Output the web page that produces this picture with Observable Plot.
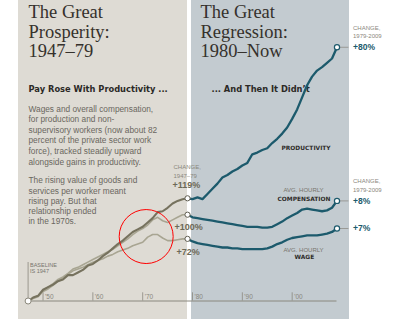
<!DOCTYPE html>
<html><head><meta charset="utf-8">
<script src="https://cdn.jsdelivr.net/npm/d3@7"></script>
<script src="https://cdn.jsdelivr.net/npm/@observablehq/plot@0.6"></script>
<style>
html,body{margin:0;padding:0;background:#fff;}
#chart svg{display:block;}
</style>
</head><body><div id="chart"></div>
<script>
// ---- data (percent change since 1947) ----
const yearsPre = d3.range(1947, 1980);
const yearsPost = d3.range(1979, 2010);
const productivityPre = [0,4,6,13,16,19,23,25,30,30,33,36,41,43,47,52,56,61,66,70,75,80,83,86,91,96,103,104,108,113,116,118,119];
const compensationPre = [0,3,6,12,16,20,25,28,32,37,39,42,45,48,51,54,57,60,64,68,72,77,81,84,88,94,97,93,91,94,97,100,100];
const wagePre = [0,3,5,11,14,18,23,27,31,35,37,39,42,45,47,49,52,54,57,59,61,64,66,68,74,77,77,73,70,70,71,72,72];
const productivityPost = [119,118,120,118,124,130,136,143,146,150,153,157,160,170,172,175,177,183,188,194,201,211,222,236,250,260,267,271,276,281,294];
const compensationPost = [100,97,96,95,94,93,92,91,90,89,88,87,86,86,86,85,85,86,89,92,96,99,102,106,107,106,105,104,105,108,116];
const wagePost = [72,69,67,66,65,64,63,62,62,61,61,60,60,60,60,60,61,63,66,68,71,73,74,75,76,76,76,77,78,80,84];
const tickYears = [1950, 1960, 1970, 1980, 1990, 2000];
const tickLabels = ["'50", "'60", "'70", "'80", "'90", "'00"];
const changePre = ["+119%", "+100%", "+72%"];
const changePost = ["+80%", "+8%", "+7%"];
const highlight = [{year: 1970.7, value: 74.7}];

// ---- layout ----
const W = 394, H = 321, mL = 27.6, mR = 57.5, mT = 41.6, mB = 20.5;
const X0 = 1947, X1 = 2009, Y0 = 0, Y1 = 300;
const kx = (W - mL - mR) / (X1 - X0), ky = (H - mT - mB) / (Y1 - Y0);
const px2x = p => X0 + (p - mL) / kx;
const py2y = p => Y0 + (H - mB - p) / ky;

const TEAL = "#1c5a6c", OLIVE = "#76725e", OLIVE_L = "#a8a592", GRAY = "#77746c";
const SANS = "Liberation Sans, Arial, sans-serif";
const HEAVY = "DejaVu Sans, sans-serif";
const SERIF = "Liberation Serif, serif";

const rows = (years, vals) => years.map((y, i) => ({year: y, value: vals[i]}));
const pre = {prod: rows(yearsPre, productivityPre), comp: rows(yearsPre, compensationPre), wage: rows(yearsPre, wagePre)};
const post = {prod: rows(yearsPost, productivityPost), comp: rows(yearsPost, compensationPost), wage: rows(yearsPost, wagePost)};
const endPre = [pre.prod.at(-1), pre.comp.at(-1), pre.wage.at(-1)];
const endPost = [post.prod.at(-1), post.comp.at(-1), post.wage.at(-1)];

const txt = (items, o) => Plot.text(items.map(d => ({x: px2x(d[0]), y: py2y(d[1]), t: d[2]})),
  Object.assign({x: "x", y: "y", text: "t", textAnchor: "start", fontFamily: SANS}, o));
const near = (d, label, dx, dy, o) => Plot.text([d], Object.assign({x: "year", y: "value", text: () => label, dx, dy, textAnchor: "start", fontFamily: SANS}, o));

const preOffsets = [[-15, -13], [-13, 12], [-11, 13]];
const preLabels = endPre.map((d, i) => near(d, changePre[i], preOffsets[i][0], preOffsets[i][1], {fontSize: 9, fontWeight: "bold", fill: "#6d6957"}));
const postLabels = endPost.map((d, i) => near(d, changePost[i], 16, 0, {fontSize: 8.5, fontWeight: "bold", fill: TEAL}));
const postHeads = [0, 1].flatMap(i => [
  near(endPost[i], "CHANGE,", 16, -19.5, {fontSize: 6, fill: "#8a877d"}),
  near(endPost[i], "1979-2009", 16, -11, {fontSize: 6, fill: "#8a877d"})
]);

const chart = Plot.plot({
  width: W, height: H,
  marginLeft: mL, marginRight: mR, marginTop: mT, marginBottom: mB,
  x: {domain: [X0, X1], axis: null},
  y: {domain: [Y0, Y1], axis: null},
  style: {background: "transparent", overflow: "visible"},
  marks: [
    // panels
    Plot.rect([{x1: px2x(18), x2: px2x(187), y1: py2y(319), y2: py2y(0)}], {x1: "x1", x2: "x2", y1: "y1", y2: "y2", fill: "#dedbd4"}),
    Plot.rect([{x1: px2x(191), x2: px2x(349), y1: py2y(319), y2: py2y(0)}], {x1: "x1", x2: "x2", y1: "y1", y2: "y2", fill: "#c3cbd0"}),
    // axis
    Plot.ruleY([0], {x1: X0, x2: X1, stroke: "#8a887e", strokeWidth: 1}),
    Plot.ruleX(tickYears, {y1: 0, y2: 9.5, stroke: "#8a887e", strokeWidth: 0.8}),
    Plot.text(tickYears, {x: d => d, y: 0, text: (d, i) => tickLabels[i], dx: 2, dy: -4.5, textAnchor: "start", fontSize: 6.5, fill: "#8a887e", fontFamily: SANS}),
    Plot.ruleX([X0], {y1: 0, y2: py2y(262), stroke: "#8a887e", strokeWidth: 0.8}),
    txt([[29.5, 264.5, "BASELINE"], [29.5, 271, "IS 1947"]], {fontSize: 5.5, fill: GRAY}),
    // titles
    txt([[28, 3.5, "The Great\nProsperity:\n1947\u201379"]], {fontFamily: SERIF, fontSize: 18.5, lineHeight: 1.06, lineAnchor: "top", fill: "#35312c"}),
    txt([[200, 3.5, "The Great\nRegression:\n1980\u2013Now"]], {fontFamily: SERIF, fontSize: 18.5, lineHeight: 1.06, lineAnchor: "top", fill: "#35312c"}),
    txt([[28, 89, "Pay Rose With Productivity ..."], [211, 89, "... And Then It Didn\u2019t"]], {fontFamily: HEAVY, fontWeight: "bold", fontSize: 8.3, fill: "#2b2926"}),
    txt([[28, 103.5, "Wages and overall compensation,\nfor production and non-\nsupervisory workers (now about 82\npercent of the private sector work\nforce), tracked steadily upward\nalongside gains in productivity."]],
      {fontSize: 8.3, lineHeight: 1.28, lineAnchor: "top", fill: "#6a6760"}),
    txt([[28, 175.5, "The rising value of goods and\nservices per worker meant\nrising pay. But that\nrelationship ended\nin the 1970s."]],
      {fontSize: 8.3, lineHeight: 1.24, lineAnchor: "top", fill: "#6a6760"}),
    // series labels
    txt([[281, 148, "PRODUCTIVITY"], [277, 199, "COMPENSATION"], [294, 257, "WAGE"]], {fontFamily: HEAVY, fontWeight: "bold", fontSize: 5.9, fill: "#2e2c29"}),
    txt([[283, 190, "AVG. HOURLY"], [283, 250, "AVG. HOURLY"]], {fontSize: 6, fill: GRAY}),
    txt([[173, 167, "CHANGE,"], [173, 175.5, "1947\u201379"]], {fontSize: 6, fill: "#8a877d"}),
    // leaders at right
    Plot.link(endPost, {x1: "year", y1: "value", x2: d => d.year + 2.3, y2: "value", stroke: "#8f8d86", strokeWidth: 0.8}),
    // lines pre
    Plot.line(pre.wage, {x: "year", y: "value", stroke: OLIVE_L, strokeWidth: 1.6}),
    Plot.line(pre.comp, {x: "year", y: "value", stroke: OLIVE_L, strokeWidth: 1.6}),
    Plot.line(pre.prod, {x: "year", y: "value", stroke: OLIVE, strokeWidth: 2.1}),
    // lines post
    Plot.line(post.wage, {x: "year", y: "value", stroke: TEAL, strokeWidth: 2.3}),
    Plot.line(post.comp, {x: "year", y: "value", stroke: TEAL, strokeWidth: 2.3}),
    Plot.line(post.prod, {x: "year", y: "value", stroke: TEAL, strokeWidth: 2.3}),
    // dots
    Plot.dot([pre.prod[0]], {x: "year", y: "value", r: 3, fill: "white", stroke: "#8a877a", strokeWidth: 1}),
    Plot.dot(endPre, {x: "year", y: "value", r: 2.6, fill: "white", stroke: "#5f5c50", strokeWidth: 1}),
    Plot.dot(endPost, {x: "year", y: "value", r: 2.6, fill: "white", stroke: TEAL, strokeWidth: 1.2}),
    // change labels
    ...preLabels, ...postLabels, ...postHeads,
    // hand-drawn highlight
    Plot.dot(highlight, {x: "year", y: "value", r: 27, fill: "none", stroke: "red", strokeWidth: 1})
  ]
});
document.getElementById("chart").append(chart);
</script>
</body></html>
